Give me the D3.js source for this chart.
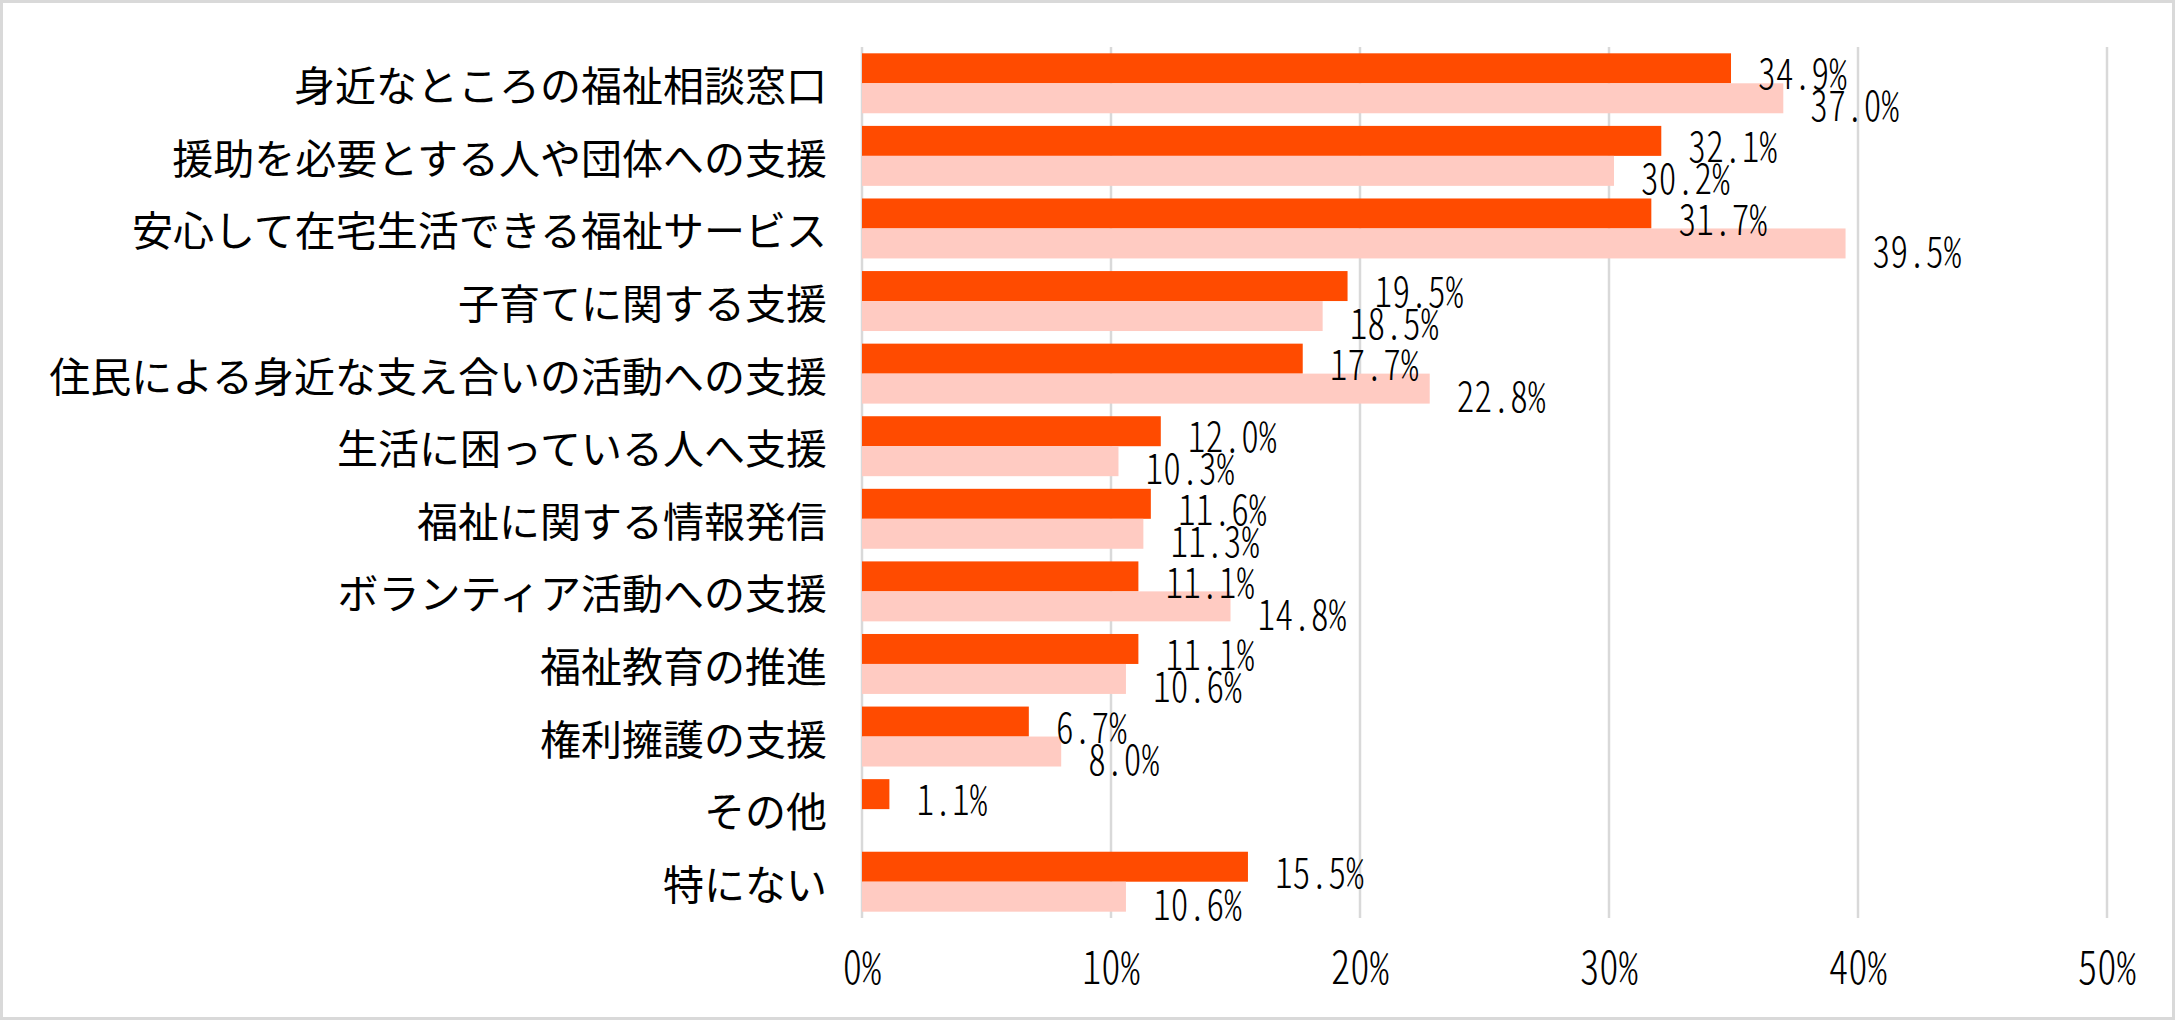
<!DOCTYPE html>
<html>
<head>
<meta charset="utf-8">
<script src="https://cdn.jsdelivr.net/npm/d3@7"></script>
<style>
  html, body { margin: 0; padding: 0; background: #fff; }
  svg { display: block; }
  .num { font-family: "Noto Sans CJK JP", sans-serif; font-feature-settings: "hwid" 1; font-weight: 300; }
  .cat { font-family: "Noto Sans CJK JP", sans-serif; }
</style>
</head>
<body>
<svg id="chart" width="2175" height="1020"></svg>
<script>
const categories = [
  "身近なところの福祉相談窓口",
  "援助を必要とする人や団体への支援",
  "安心して在宅生活できる福祉サービス",
  "子育てに関する支援",
  "住民による身近な支え合いの活動への支援",
  "生活に困っている人へ支援",
  "福祉に関する情報発信",
  "ボランティア活動への支援",
  "福祉教育の推進",
  "権利擁護の支援",
  "その他",
  "特にない"
];
const seriesCurrent = [34.9, 32.1, 31.7, 19.5, 17.7, 12.0, 11.6, 11.1, 11.1, 6.7, 1.1, 15.5];
const seriesPrevious = [37.0, 30.2, 39.5, 18.5, 22.8, 10.3, 11.3, 14.8, 10.6, 8.0, null, 10.6];
const tickValues = [0, 10, 20, 30, 40, 50];
const tickLabels = ["0%", "10%", "20%", "30%", "40%", "50%"];

const W = 2175, H = 1020;
const svg = d3.select("#chart");

// outer border
svg.append("rect").attr("x", 1.5).attr("y", 1.5).attr("width", W - 3).attr("height", H - 3)
  .attr("fill", "#fff").attr("stroke", "#d9d9d9").attr("stroke-width", 3);

const x = d3.scaleLinear().domain([0, 50]).range([862, 2107]);
const y = d3.scaleBand().domain(categories).range([47, 918]).padding(0);
const bw = y.bandwidth();
const barH = bw * 0.413;
const off = (bw - 2 * barH) / 2;

// gridlines
svg.append("g").selectAll("line").data(tickValues).join("line")
  .attr("x1", d => x(d)).attr("x2", d => x(d))
  .attr("y1", 47).attr("y2", 918)
  .attr("stroke", "#d9d9d9").attr("stroke-width", 2.5);

// monospace-like number text
function monoText(g, str, x0, yc, cell, fs, sx, anchor) {
  const chars = Array.from(str);
  const total = chars.length * cell;
  let start = x0;
  if (anchor === "middle") start = x0 - total / 2;
  const xs = chars.map((c, i) => ((i + 0.5) * cell) / sx);
  g.append("text").attr("class", "num")
    .attr("transform", `translate(${start},${yc}) scale(${sx},1)`)
    .attr("x", xs.join(" "))
    .attr("y", 0)
    .attr("text-anchor", "middle")
    .attr("dominant-baseline", "central")
    .attr("font-size", fs)
    .attr("fill", "#000")
    .text(str);
}

const gBars = svg.append("g");
gBars.selectAll("rect.cur").data(seriesCurrent).join("rect").attr("class", "cur")
  .attr("x", x(0)).attr("y", (d, i) => y(categories[i]) + off)
  .attr("width", d => x(d) - x(0)).attr("height", barH)
  .attr("fill", "#ff4b00");
gBars.selectAll("rect.prev").data(seriesPrevious).join("rect").attr("class", "prev")
  .attr("x", x(0)).attr("y", (d, i) => y(categories[i]) + off + barH)
  .attr("width", d => d == null ? 0 : x(d) - x(0)).attr("height", barH)
  .attr("fill", "#ffcbc2");

const gLab = svg.append("g");
seriesCurrent.forEach((d, i) => {
  monoText(gLab, d.toFixed(1) + "%", x(d) + 27, y(categories[i]) + off + barH / 2 + 2, 17.8, 43, 0.82, "start");
});
seriesPrevious.forEach((d, i) => {
  if (d == null) return;
  monoText(gLab, d.toFixed(1) + "%", x(d) + 27, y(categories[i]) + off + barH * 1.5 + 4, 17.8, 43, 0.82, "start");
});

// category labels
svg.append("g").selectAll("text").data(categories).join("text").attr("class", "cat")
  .attr("x", 827).attr("y", d => y(d) + bw / 2)
  .attr("text-anchor", "end").attr("dominant-baseline", "central")
  .attr("font-size", 41).attr("fill", "#000")
  .text(d => d);

// tick labels
const gTicks = svg.append("g");
tickValues.forEach((t, i) => {
  monoText(gTicks, tickLabels[i], x(t), 963.5, 19.4, 46, 0.84, "middle");
});
</script>
</body>
</html>
